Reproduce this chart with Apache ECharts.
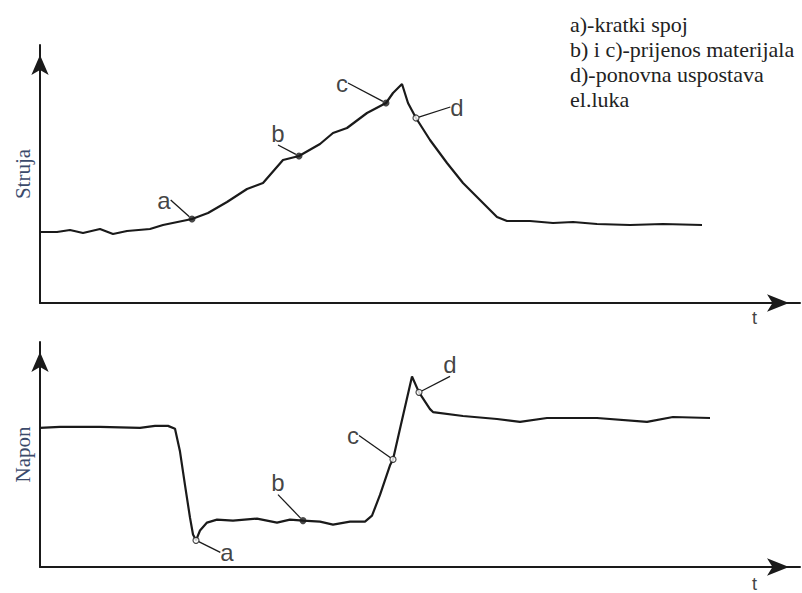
<!DOCTYPE html>
<html><head><meta charset="utf-8">
<script src="https://cdn.jsdelivr.net/npm/echarts@6/dist/echarts.min.js"></script>
<style>html,body{margin:0;padding:0;background:#fff}#c{width:802px;height:593px}</style>
</head><body><div id="c"></div>
<script>
// ---- data (arbitrary units) ----
const legendLines = ['a)-kratki spoj', 'b) i c)-prijenos materijala', 'd)-ponovna uspostava', 'el.luka'];
const axisNames = { current: 'Struja', voltage: 'Napon', time: 't' };

const currentT = [0,17,30,43,60,73,87,110,123,152,168,187,207,223,243,259,280,293,307,327,346,353,362,368,376,390,407,423,440,457,467,490,513,533,557,590,623,662];
const currentV = [71,71,73,70,74,69,72,74,78,84,90,101,114,120,143,147,159,170,175,190,200,210,219,200,185,163,140,120,103,86,82,82,80,81,79,78,79,78];

const voltageT = [0,20,60,100,115,128,135,140,145,150,153,156,160,167,177,193,217,237,250,263,280,293,310,325,332,340,350,353,360,372,379,390,393,423,457,480,507,557,607,633,670];
const voltageV = [141,142,142,141,143,143,140,117,83,50,33,27,37,45,48,47,49,45,48,47,46,43,46,46,52,73,103,109,140,193,177,160,157,153,150,147,151,151,147,152,151];

const pointNames = ['a', 'b', 'c', 'd'];
const currentPointT = [152, 259, 346, 376];
const currentPointV = [84, 147, 200, 185];
const voltagePointT = [156, 263, 353, 379];
const voltagePointV = [27, 47, 109, 177];

// ---- layout / style config ----
const currentOpen = [false, false, false, true];
const voltageOpen = [true, false, true, true];
const currentShift = [[-28,-19],[-21,-23],[-44,-20],[41,-11]];
const voltageShift = [[31,12],[-25,-38],[-40,-24],[31,-28]];

const ink = '#1a1a1a';
const serif = "'Liberation Serif', 'Times New Roman', 'DejaVu Serif', serif";
const sans = "'Liberation Sans', Arial, sans-serif";
function zip(a, b) { return a.map((v, i) => [v, b[i]]); }
function points(ts, vs, open) {
  return ts.map((t, i) => ({
    name: pointNames[i],
    value: [t, vs[i]],
    symbolSize: open[i] ? 6 : 7,
    itemStyle: open[i] ? { color: '#fff', borderColor: ink, borderWidth: 1.2 } : { color: ink, borderColor: ink, borderWidth: 0 }
  }));
}
function xAx(gi, pad) {
  return {
    type: 'value', gridIndex: gi, min: 0, max: 760,
    axisLine: { show: true, symbol: ['none', 'arrow'], symbolSize: [13, 22], symbolOffset: [0, -11], lineStyle: { color: ink, width: 2 } },
    axisTick: { show: false }, axisLabel: { show: false }, splitLine: { show: false },
    name: axisNames.time, nameLocation: 'end', nameGap: -48,
    nameTextStyle: { fontFamily: sans, fontSize: 18, color: '#444', align: 'left', verticalAlign: 'top', padding: [pad, 0, 0, 0] }
  };
}
function yAx(gi, max, name) {
  return {
    type: 'value', gridIndex: gi, min: 0, max: max,
    axisLine: { show: true, onZero: false, symbol: ['none', 'arrow'], symbolSize: [13, 20], symbolOffset: [0, -10], lineStyle: { color: ink, width: 2 } },
    axisTick: { show: false }, axisLabel: { show: false }, splitLine: { show: false },
    name: name, nameLocation: 'middle', nameGap: 7,
    nameTextStyle: { fontFamily: serif, fontSize: 21, color: '#3b4a6b' }
  };
}
function labelSeries(xi, data, shift) {
  return {
    type: 'scatter', xAxisIndex: xi, yAxisIndex: xi, data: data, z: 5,
    label: { show: true, position: 'inside', formatter: '{b}', fontFamily: sans, fontSize: 24, color: '#111' },
    labelLayout: p => ({ dx: shift[p.dataIndex][0], dy: shift[p.dataIndex][1] }),
    labelLine: { show: true, lineStyle: { color: ink, width: 1.3 } },
    emphasis: { disabled: true }, silent: true
  };
}

const chart = echarts.init(document.getElementById('c'), null, { renderer: 'svg' });
chart.setOption({
  animation: false,
  backgroundColor: '#fff',
  title: {
    text: legendLines.join('\n'), left: 570, top: 12, padding: 0,
    textStyle: { fontFamily: serif, fontSize: 22, fontWeight: 'normal', color: '#222', lineHeight: 25 }
  },
  grid: [
    { left: 40, top: 45, width: 760, height: 258, containLabel: false },
    { left: 40, top: 342, width: 760, height: 228, containLabel: false }
  ],
  xAxis: [xAx(0, 6), xAx(1, 8)],
  yAxis: [yAx(0, 258, axisNames.current), yAx(1, 228, axisNames.voltage)],
  series: [
    { type: 'line', xAxisIndex: 0, yAxisIndex: 0, data: zip(currentT, currentV), showSymbol: false, smooth: false, lineStyle: { color: ink, width: 2.2 }, silent: true },
    { type: 'line', xAxisIndex: 1, yAxisIndex: 1, data: zip(voltageT, voltageV), showSymbol: false, smooth: false, lineStyle: { color: ink, width: 2.2 }, silent: true },
    labelSeries(0, points(currentPointT, currentPointV, currentOpen), currentShift),
    labelSeries(1, points(voltagePointT, voltagePointV, voltageOpen), voltageShift)
  ]
});
</script></body></html>
